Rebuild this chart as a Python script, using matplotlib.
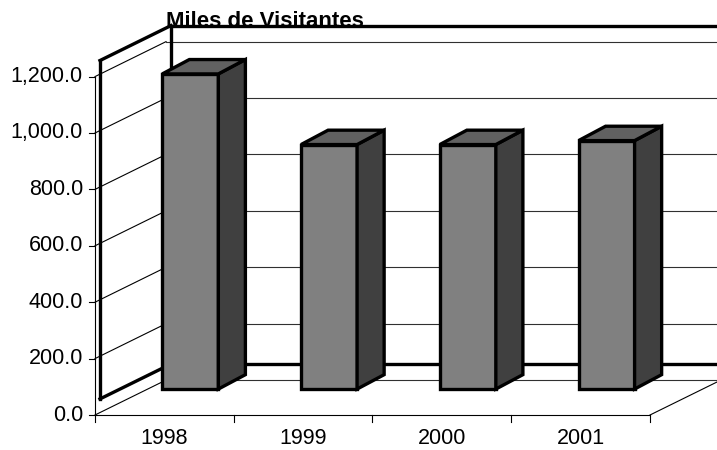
import matplotlib
matplotlib.use('Agg')
from matplotlib import pyplot as plt
from matplotlib.patches import Polygon

plt.rcParams['font.family'] = ['Liberation Sans', 'DejaVu Sans']

years = ['1998', '1999', '2000', '2001']
visitors = [1117.5, 867.0, 867.0, 881.0]
y_ticks = [0, 200, 400, 600, 800, 1000, 1200]
y_tick_labels = ['0.0', '200.0', '400.0', '600.0', '800.0', '1,000.0', '1,200.0']
title = 'Miles de Visitantes'

# oblique "3d" look: depth offset in (category, value) units
DX, DY = 0.512, 124.0        # full depth of the floor
SX, SY = 0.036, 57.0         # walls drawn a bit off the gridlines, like excel does
BOX, BOY = 0.187, 92.0       # front face of the bars
BW = 0.404                   # bar width
SDX, SDY = 0.195, 51.0       # bar depth
FRONT, SIDE, TOP = '#808080', '#404040', '#616161'

fig = plt.figure(figsize=(7.17, 4.5), dpi=100)
ax = fig.add_axes([0, 0, 1, 1])
ax.set_xlim(-0.6847, 4.483)
ax.set_ylim(-124.1, 1471.6)
ax.axis('off')

n = len(years)
ymax = y_ticks[-1]

# gridlines: side wall diagonals + back wall horizontals
for v in y_ticks:
    ax.plot([0, DX], [v, v + DY], color='black', lw=0.8, zorder=1)
    ax.plot([DX, n + DX + 1], [v + DY, v + DY], color='#303030', lw=0.8, zorder=1)

# floor edges
ax.plot([n, n + DX], [0, DY], color='black', lw=0.8, zorder=1)

# wall outlines (thick)
wall = dict(color='black', lw=2.4, zorder=2, solid_capstyle='projecting')
ax.plot([SX, SX], [SY, ymax + SY], **wall)
ax.plot([SX, DX + SX], [ymax + SY, ymax + SY + DY], **wall)
ax.plot([SX, DX + SX], [SY, SY + DY], **wall)
ax.plot([DX + SX, DX + SX], [SY + DY, ymax + SY + DY], **wall)
ax.plot([DX + SX, n + 2], [ymax + SY + DY, ymax + SY + DY], **wall)
ax.plot([DX + SX, n + 2], [SY + DY, SY + DY], **wall)

# axes lines and ticks
ax.plot([0, 0], [0, ymax], color='black', lw=0.8, zorder=3)
ax.plot([0, n], [0, 0], color='black', lw=0.8, zorder=3)
for v, lab in zip(y_ticks, y_tick_labels):
    ax.plot([-0.045, 0], [v, v], color='black', lw=0.8, zorder=3)
    ax.text(-0.0865, v, lab, ha='right', va='center', fontsize=15.5)
for i in range(n + 1):
    ax.plot([i, i], [0, -25], color='black', lw=0.8, zorder=3)
for i, yr in enumerate(years):
    ax.text(i + 0.5, -104, yr, ha='center', va='baseline', fontsize=15.5)

# bars
for i, v in enumerate(visitors):
    x0 = i + (1 - BW) / 2 + BOX
    x1 = x0 + BW
    y0 = BOY
    y1 = BOY + v
    faces = [
        ([(x0, y0), (x1, y0), (x1, y1), (x0, y1)], FRONT),
        ([(x1, y0), (x1 + SDX, y0 + SDY), (x1 + SDX, y1 + SDY), (x1, y1)], SIDE),
        ([(x0, y1), (x1, y1), (x1 + SDX, y1 + SDY), (x0 + SDX, y1 + SDY)], TOP),
    ]
    for pts, c in faces:
        ax.add_patch(Polygon(pts, closed=True, facecolor=c, edgecolor='black',
                             lw=2.4, joinstyle='miter', zorder=5))

ax.text(DX, 1377, title, ha='left', va='baseline', fontsize=16,
        fontweight='bold', zorder=6)

fig.savefig('out.png', dpi=100)
